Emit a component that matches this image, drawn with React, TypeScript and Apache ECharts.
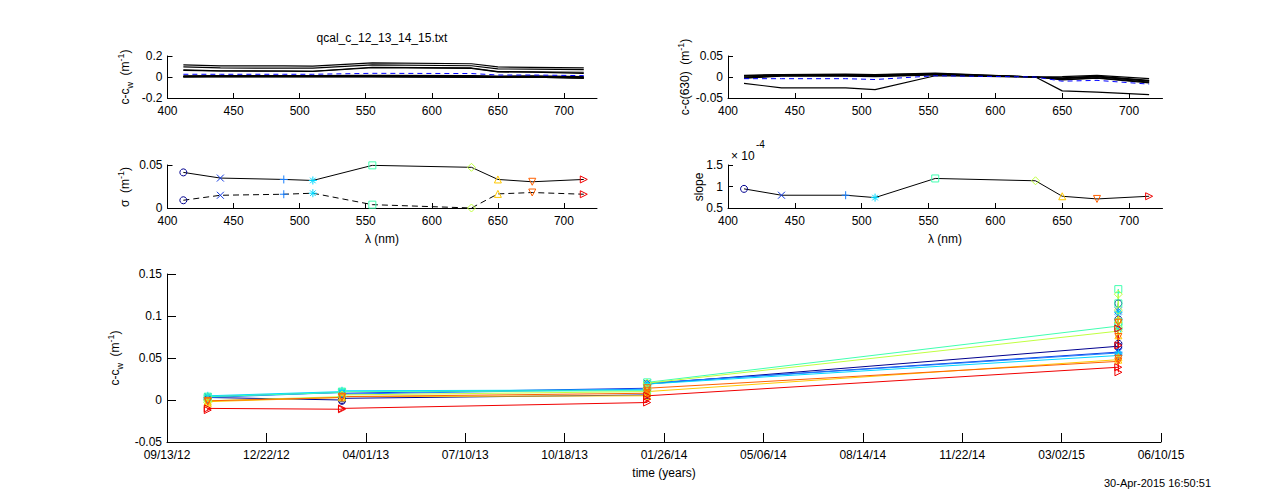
import React, { useEffect, useRef } from 'react';
import * as echarts from 'echarts';

const FONT = 'Liberation Sans';

// ---------- data ----------
const wavelengths = [412, 440, 488, 510, 555, 630, 650, 676, 715];
const nmTicks = [400, 450, 500, 550, 600, 650, 700];

// c - c_w spectra (black lines) and mean (blue dashed)
const ccwLine1 = [0.115, 0.106, 0.106, 0.104, 0.134, 0.126, 0.096, 0.092, 0.086];
const ccwLine2 = [0.096, 0.086, 0.085, 0.084, 0.115, 0.107, 0.077, 0.075, 0.070];
const ccwLine3 = [0.067, 0.058, 0.057, 0.055, 0.093, 0.086, 0.051, 0.049, 0.045];
const ccwLine4 = [0.064, 0.057, 0.056, 0.053, 0.088, 0.082, 0.048, 0.046, 0.035];
const ccwLine5 = [0.012, 0.014, 0.014, 0.014, 0.015, 0.014, 0.008, 0.010, 0.004];
const ccwLine6 = [0.006, 0.010, 0.010, 0.010, 0.011, 0.009, 0.005, 0.007, -0.003];
const ccwLine7 = [0.002, 0.007, 0.007, 0.008, 0.008, 0.005, 0.003, 0.004, -0.008];
const ccwLine8 = [0.001, 0.002, 0.001, 0.003, 0.002, -0.003, -0.004, -0.002, -0.012];
const ccwLine9 = [0.003, 0.004, 0.003, 0.005, 0.004, -0.001, -0.002, -0.001, -0.010];
const ccwMean = [0.026, 0.026, 0.026, 0.026, 0.035, 0.033, 0.019, 0.019, 0.013];

// c - c(630) spectra and mean
const relLine1 = [-0.015, -0.026, -0.026, -0.030, 0.003, 0, -0.033, -0.036, -0.042];
const relLine2 = [0.004, 0.006, 0.007, 0.006, 0.009, 0, 0.001, 0.004, -0.004];
const relLine3 = [0.002, 0.005, 0.006, 0.005, 0.008, 0, -0.002, 0.002, -0.008];
const relLine4 = [0.000, 0.004, 0.004, 0.003, 0.007, 0, -0.004, 0.000, -0.010];
const relLine5 = [-0.002, 0.003, 0.003, 0.002, 0.006, 0, -0.006, -0.002, -0.012];
const relLine6 = [-0.003, 0.002, 0.002, 0.001, 0.005, 0, -0.007, -0.003, -0.014];
const relLine7 = [0.003, 0.005, 0.005, 0.004, 0.007, 0, -0.003, 0.001, -0.009];
const relMean = [-0.004, -0.004, -0.004, -0.006, 0.003, 0, -0.010, -0.008, -0.017];

// sigma and slope
const sigmaSolid = [0.0414, 0.0348, 0.0332, 0.032, 0.0496, 0.0473, 0.0332, 0.0305, 0.0332];
const sigmaDashed = [0.009, 0.0148, 0.016, 0.0172, 0.0039, 0.0, 0.0164, 0.018, 0.016];
const slopeValues = [0.945e-4, 0.797e-4, 0.797e-4, 0.742e-4, 1.187e-4, 1.133e-4, 0.773e-4, 0.711e-4, 0.773e-4];

// time series
const timeOrigin = '2012-09-13';
const calDates = ['2012-10-24', '2013-03-08', '2014-01-09', '2015-04-28'];
const ts412 = [[0.001, 0.003], [0.000, -0.001, 0.002], [0.006, 0.013, 0.019], [0.064, 0.115, 0.096, 0.067]];
const ts440 = [[0.002, 0.004], [0.009, 0.008], [0.014, 0.018, 0.020], [0.057, 0.106, 0.086, 0.058]];
const ts488 = [[0.001, 0.003], [0.009, 0.007], [0.013, 0.017, 0.020], [0.056, 0.105, 0.085, 0.057]];
const ts510 = [[0.003, 0.005], [0.010, 0.011], [0.012, 0.016, 0.019], [0.053, 0.104, 0.084, 0.055]];
const ts555 = [[0.002, 0.004], [0.009, 0.010], [0.011, 0.015, 0.021], [0.088, 0.132, 0.115, 0.093]];
const ts630 = [[-0.003, -0.001], [0.004, 0.006], [0.010, 0.014, 0.020], [0.082, 0.126, 0.107, 0.086]];
const ts650 = [[-0.004, -0.002], [0.003, 0.004], [0.005, 0.008, 0.010], [0.048, 0.096, 0.077, 0.051]];
const ts676 = [[-0.002, -0.001], [0.003, 0.004], [0.008, 0.011, 0.014], [0.046, 0.092, 0.075, 0.049]];
const ts715 = [[-0.012, -0.010], [-0.011, -0.010], [-0.003, 0.001, 0.005], [0.039, 0.085, 0.065, 0.033]];

const ccwLines = [ccwLine1, ccwLine2, ccwLine3, ccwLine4, ccwLine5, ccwLine6, ccwLine7, ccwLine8, ccwLine9];
const relLines = [relLine1, relLine2, relLine3, relLine4, relLine5, relLine6, relLine7];
const tsAll = [ts412, ts440, ts488, ts510, ts555, ts630, ts650, ts676, ts715];

const waveColors = ['#00008f', '#1038e0', '#1a80ff', '#00d8ff', '#40ffb0', '#c0ff40', '#ffc800', '#ff6000', '#f00000'];
const MK_X = 'path://M0,0L10,10M0,10L10,0';
const MK_PLUS = 'path://M5,0L5,10M0,5L10,5';
const MK_STAR = 'path://M5,0L5,10M0,5L10,5M1.5,1.5L8.5,8.5M1.5,8.5L8.5,1.5';
const MK_DOWN = 'path://M0,0L10,0L5,9Z';
const MK_RIGHT = 'path://M0,0L9,5L0,10Z';
const waveMarkers = ['circle', MK_X, MK_PLUS, MK_STAR, 'rect', 'diamond', 'triangle', MK_DOWN, MK_RIGHT];
const waveMarkerSizes = [7, 7, 8, 8, 7, 8, 7, 7, 7];

// ---------- helpers ----------
const DAY = 86400000;
const toDays = (s: string) => {
  const [y, m, d] = s.split('-').map(Number);
  const [y0, m0, d0] = timeOrigin.split('-').map(Number);
  return (Date.UTC(y, m - 1, d) - Date.UTC(y0, m0 - 1, d0)) / DAY;
};
const fmtDate = (v: number) => {
  const [y0, m0, d0] = timeOrigin.split('-').map(Number);
  const dt = new Date(Date.UTC(y0, m0 - 1, d0) + Math.round(v) * DAY);
  const p = (n: number) => String(n).padStart(2, '0');
  return `${p(dt.getUTCMonth() + 1)}/${p(dt.getUTCDate())}/${p(dt.getUTCFullYear() % 100)}`;
};

const labelStyle = { color: '#000', fontFamily: FONT, fontSize: 12 };

const nmXAxis = (gridIndex: number) => ({
  type: 'value', gridIndex, min: 400, max: 725, interval: 50,
  axisLine: { onZero: false, lineStyle: { color: '#000', width: 1 } },
  axisTick: { inside: true, length: 5, customValues: nmTicks, lineStyle: { color: '#000' } },
  axisLabel: { ...labelStyle, customValues: nmTicks, margin: 7 },
  splitLine: { show: false },
});

const yAxisOf = (gridIndex: number, min: number, max: number, interval: number, tickLen: number, formatter?: any) => ({
  type: 'value', gridIndex, min, max, interval,
  axisLine: { show: true, onZero: false, lineStyle: { color: '#000', width: 1 } },
  axisTick: { inside: true, length: tickLen, lineStyle: { color: '#000' } },
  axisLabel: { ...labelStyle, margin: 5, ...(formatter ? { formatter } : {}) },
  splitLine: { show: false },
});

const markerItem = (i: number, x: number, y: number) => ({
  value: [x, y],
  symbol: waveMarkers[i],
  symbolSize: waveMarkerSizes[i],
  itemStyle: { color: 'rgba(0,0,0,0)', borderColor: waveColors[i], borderWidth: 1 },
});

const richLabel = {
  n: { fontSize: 12, fontFamily: FONT, lineHeight: 18, verticalAlign: 'middle', fill: '#000', color: '#000' },
  sb: { fontSize: 9, fontFamily: FONT, lineHeight: 9, verticalAlign: 'bottom', fill: '#000', color: '#000' },
  sp: { fontSize: 9, fontFamily: FONT, lineHeight: 9, verticalAlign: 'top', fill: '#000', color: '#000' },
};

const textEl = (x: number, y: number, text: string, opts: any = {}) => ({
  type: 'text', x, y, rotation: opts.rotation || 0,
  style: {
    text, fill: '#000', fontFamily: FONT, fontSize: opts.fontSize || 12,
    align: opts.align || 'center', verticalAlign: 'middle',
    ...(opts.rich ? { rich: richLabel } : {}),
  },
});

function buildOption() {
  const series: any[] = [];

  // subplot 1
  ccwLines.forEach((ln) => {
    series.push({
      type: 'line', xAxisIndex: 0, yAxisIndex: 0, symbol: 'none',
      data: wavelengths.map((w, i) => [w, ln[i]]),
      lineStyle: { color: '#000', width: 1.2 },
    });
  });
  series.push({
    type: 'line', xAxisIndex: 0, yAxisIndex: 0, symbol: 'none',
    data: wavelengths.map((w, i) => [w, ccwMean[i]]),
    lineStyle: { color: '#0000ff', width: 1, type: [5, 4] },
  });

  // subplot 2
  relLines.forEach((ln) => {
    series.push({
      type: 'line', xAxisIndex: 1, yAxisIndex: 1, symbol: 'none',
      data: wavelengths.map((w, i) => [w, ln[i]]),
      lineStyle: { color: '#000', width: 1.2 },
    });
  });
  series.push({
    type: 'line', xAxisIndex: 1, yAxisIndex: 1, symbol: 'none',
    data: wavelengths.map((w, i) => [w, relMean[i]]),
    lineStyle: { color: '#0000ff', width: 1, type: [5, 4] },
  });

  // subplot 3
  series.push({
    type: 'line', xAxisIndex: 2, yAxisIndex: 2, showAllSymbol: true,
    data: wavelengths.map((w, i) => markerItem(i, w, sigmaSolid[i])),
    lineStyle: { color: '#000', width: 1 },
  });
  series.push({
    type: 'line', xAxisIndex: 2, yAxisIndex: 2, showAllSymbol: true,
    data: wavelengths.map((w, i) => markerItem(i, w, sigmaDashed[i])),
    lineStyle: { color: '#000', width: 1, type: [6, 4] },
  });

  // subplot 4
  series.push({
    type: 'line', xAxisIndex: 3, yAxisIndex: 3, showAllSymbol: true,
    data: wavelengths.map((w, i) => markerItem(i, w, slopeValues[i])),
    lineStyle: { color: '#000', width: 1 },
  });

  // subplot 5
  tsAll.forEach((groups, wi) => {
    const data: any[] = [];
    groups.forEach((vals, di) => {
      const d0 = toDays(calDates[di]);
      vals.forEach((v, k) => data.push(markerItem(wi, d0 + k * 0.05, v)));
    });
    series.push({
      type: 'line', xAxisIndex: 4, yAxisIndex: 4, showAllSymbol: true,
      data, lineStyle: { color: waveColors[wi], width: 1 },
    });
  });

  const dateTicks = [0, 100, 200, 300, 400, 500, 600, 700, 800, 900, 1000];

  return {
    animation: false,
    backgroundColor: '#fff',
    grid: [
      { left: 167.5, top: 56, width: 429.5, height: 42, containLabel: false, outerBoundsMode: 'none' },
      { left: 728, top: 56, width: 434.5, height: 42, containLabel: false, outerBoundsMode: 'none' },
      { left: 167.5, top: 165, width: 429.5, height: 43, containLabel: false, outerBoundsMode: 'none' },
      { left: 728, top: 165, width: 434.5, height: 43, containLabel: false, outerBoundsMode: 'none' },
      { left: 167, top: 274, width: 994, height: 168, containLabel: false, outerBoundsMode: 'none' },
    ],
    xAxis: [
      nmXAxis(0), nmXAxis(1), nmXAxis(2), nmXAxis(3),
      {
        type: 'value', gridIndex: 4, min: 0, max: 1000, interval: 100,
        axisLine: { onZero: false, lineStyle: { color: '#000', width: 1 } },
        axisTick: { inside: true, length: 9, customValues: dateTicks, lineStyle: { color: '#000' } },
        axisLabel: { ...labelStyle, customValues: dateTicks, margin: 7, formatter: fmtDate },
        splitLine: { show: false },
      },
    ],
    yAxis: [
      yAxisOf(0, -0.2, 0.2, 0.2, 5),
      yAxisOf(1, -0.05, 0.05, 0.05, 5),
      yAxisOf(2, 0, 0.05, 0.05, 5),
      yAxisOf(3, 0.5e-4, 1.5e-4, 0.5e-4, 5, (v: number) => String(Math.round(v * 1e5) / 10)),
      yAxisOf(4, -0.05, 0.15, 0.05, 9),
    ],
    series,
    graphic: [
      textEl(382, 38, 'qcal_c_12_13_14_15.txt'),
      textEl(125, 77, '{n|c-c}{sb|w}{n|  (m}{sp|-1}{n|)}', { rotation: Math.PI / 2, rich: true }),
      textEl(685, 77, '{n|c-c(630)  (m}{sp|-1}{n|)}', { rotation: Math.PI / 2, rich: true }),
      textEl(125, 187, '{n|σ  (m}{sp|-1}{n|)}', { rotation: Math.PI / 2, rich: true }),
      textEl(699, 187, 'slope', { rotation: Math.PI / 2 }),
      textEl(115, 358, '{n|c-c}{sb|w}{n|  (m}{sp|-1}{n|)}', { rotation: Math.PI / 2, rich: true }),
      textEl(382, 239, 'λ (nm)'),
      textEl(945, 239, 'λ (nm)'),
      textEl(664, 473, 'time (years)'),
      textEl(731, 156, '× 10', { align: 'left' }),
      textEl(756, 144, '-4', { align: 'left', fontSize: 10 }),
      textEl(1104, 483, '30-Apr-2015 16:50:51', { align: 'left', fontSize: 11 }),
    ],
  };
}

export default function App() {
  const ref = useRef<HTMLDivElement>(null);
  useEffect(() => {
    const chart = echarts.init(ref.current as HTMLDivElement, null, { renderer: 'svg' });
    chart.setOption(buildOption() as any);
    return () => chart.dispose();
  }, []);
  return (
    <div
      ref={ref}
      style={{ position: 'fixed', left: 0, top: 0, width: 1283, height: 497, background: '#fff' }}
    />
  );
}
